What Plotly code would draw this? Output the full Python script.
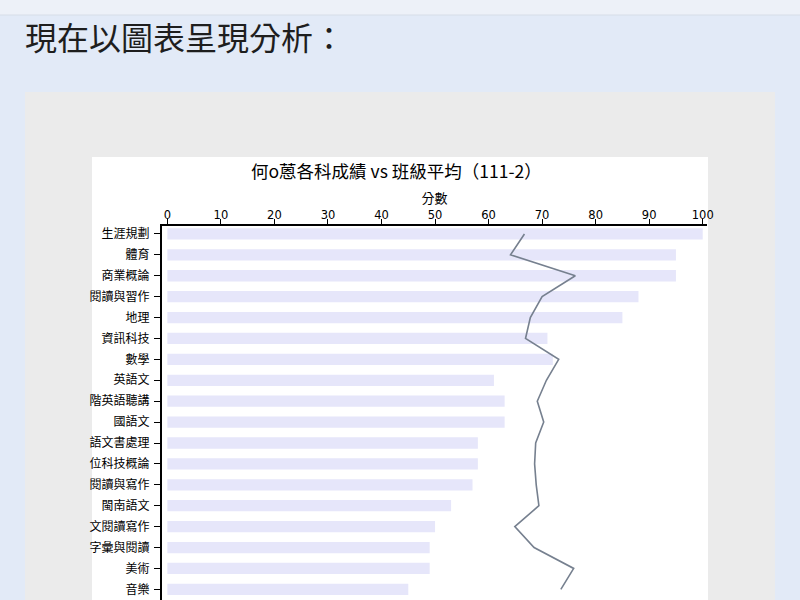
import plotly.graph_objects as go

# 科目（畫面左側被裁掉的字依截圖保留）
subjects = ["生涯規劃", "體育", "商業概論", "閱讀與習作", "地理", "資訊科技", "數學", "英語文",
            "階英語聽講", "國語文", "語文書處理", "位科技概論", "閱讀與寫作", "閩南語文",
            "文閱讀寫作", "字彙與閱讀", "美術", "音樂"]
student_scores = [100, 95, 95, 88, 85, 71, 72, 61, 63, 63, 58, 58, 57, 53, 50, 49, 49, 45]
class_avg = [66.7, 64.1, 76.2, 70.0, 67.8, 66.9, 73.1, 70.8, 69.1, 70.3, 68.8, 68.6, 68.9,
             69.4, 64.9, 68.5, 75.9, 73.5]

chart_title = "何o蒽各科成績 vs 班級平均（111-2）"
heading = "現在以圖表呈現分析："

# plot area in pixels (800x600 page)
L, R, T, B = 162, 707, 226, 600
W, H = 800, 600


def px_x(p):
  return (p - L) / (R - L)


def px_y(p):
  return (B - p) / (B - T)


fig = go.Figure()
fig.add_trace(go.Bar(x=student_scores, y=subjects, orientation="h",
                     marker=dict(color="#e6e6fa", line=dict(width=0)), name="個人"))
fig.add_trace(go.Scatter(x=class_avg, y=subjects, mode="lines",
                         line=dict(color="#76808f", width=1.6), name="班級平均"))

shapes = [
  # top strip
  dict(type="rect", x0=px_x(-5), x1=px_x(W + 5), y0=px_y(15), y1=px_y(-5),
       fillcolor="#edf1f8", line=dict(width=0)),
  dict(type="line", x0=px_x(-5), x1=px_x(W + 5), y0=px_y(15), y1=px_y(15),
       line=dict(color="#d6dde8", width=1)),
  # gray card
  dict(type="rect", x0=px_x(25), x1=px_x(775), y0=px_y(610), y1=px_y(92),
       fillcolor="#ebebeb", line=dict(width=0)),
  # white chart image
  dict(type="rect", x0=px_x(92), x1=px_x(708), y0=px_y(610), y1=px_y(157),
       fillcolor="white", line=dict(width=0)),
]
for s in shapes:
  s.update(xref="paper", yref="paper", layer="below")

fig.update_layout(
  width=W, height=H,
  margin=dict(l=L, r=W - R, t=T, b=0),
  paper_bgcolor="#e2eaf7", plot_bgcolor="white",
  showlegend=False, bargap=0.46,
  font=dict(family="Noto Sans CJK TC", color="black", size=12),
  shapes=shapes,
  annotations=[
    dict(text=heading, xref="paper", yref="paper", x=px_x(23), y=px_y(36),
         xanchor="left", yanchor="middle", showarrow=False,
         font=dict(size=32, color="#1e1e1e", family="Noto Sans CJK TC")),
    dict(text=chart_title, xref="paper", yref="paper", x=px_x(396), y=px_y(170),
         xanchor="center", yanchor="middle", showarrow=False,
         font=dict(size=17.5, color="black", family="Noto Sans CJK TC")),
  ],
)
fig.update_xaxes(side="top", range=[-1, 100.8], tickvals=list(range(0, 101, 10)),
                 showgrid=False, zeroline=False, showline=True, linecolor="black", linewidth=2,
                 ticks="outside", ticklen=5, tickcolor="black", ticklabelstandoff=-5,
                 tickfont=dict(family="DejaVu Sans", size=11.5),
                 title=dict(text="分數", standoff=2, font=dict(size=13)))
fig.update_yaxes(range=[17.51, -0.38], showgrid=False, zeroline=False, showline=True,
                 linecolor="black", linewidth=2, ticks="outside", ticklen=6, tickcolor="black",
                 ticklabelstandoff=2, tickfont=dict(size=12))

# drop the default 8px body margin so the figure sits at the page corner
fig.write_html("out.html", config={"displayModeBar": False},
               post_script="document.body.style.margin='0';")
